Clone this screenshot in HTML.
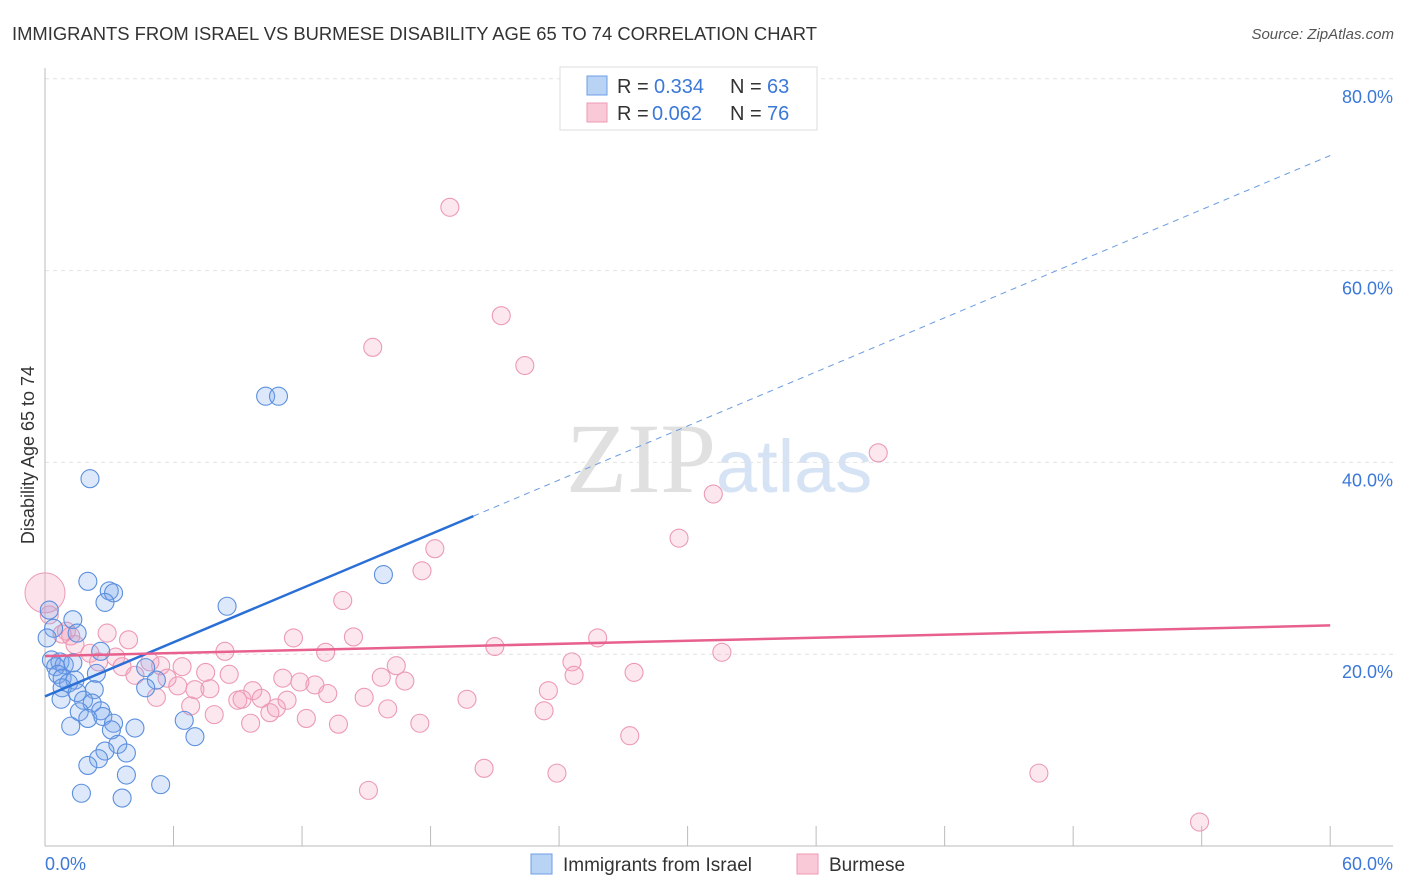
<!DOCTYPE html>
<html><head><meta charset="utf-8"><style>
body{margin:0;background:#fff;font-family:"Liberation Sans",sans-serif;}
svg{display:block}
</style></head><body>
<svg id="chart" width="1406" height="892">
<text x="12" y="40" font-size="18.4" fill="#333">IMMIGRANTS FROM ISRAEL VS BURMESE DISABILITY AGE 65 TO 74 CORRELATION CHART</text>
<text x="1394" y="39" font-size="15" fill="#555" font-style="italic" text-anchor="end">Source: ZipAtlas.com</text>
<text x="716" y="492" font-size="100" fill="#e0e0e0" text-anchor="end" font-family="Liberation Serif">ZIP</text>
<text x="716" y="492" font-size="74" fill="#d5e3f5">atlas</text>
<g id="grid"></g>
<line x1="45" y1="68" x2="45" y2="846" stroke="#bbb"/>
<line x1="45" y1="846" x2="1393" y2="846" stroke="#bbb"/>
<text x="34" y="455" font-size="18" fill="#333" text-anchor="middle" transform="rotate(-90 34 455)">Disability Age 65 to 74</text>
<text x="45" y="870" font-size="18" fill="#3b78d8">0.0%</text>
<text x="1393" y="870" font-size="18" fill="#3b78d8" text-anchor="end">60.0%</text>
<g id="pts"></g>
<g id="lines"></g>
<g>
<rect x="560" y="67" width="257" height="63" fill="#fff" stroke="#ddd"/>
<rect x="587" y="76" width="20" height="19" fill="#b9d3f5" stroke="#6b9ee6"/>
<rect x="587" y="103" width="20" height="19" fill="#f9c9d8" stroke="#ee9ab5"/>
<text x="617" y="93" font-size="20" fill="#333">R =</text>
<text x="654" y="93" font-size="20" fill="#3b78d8">0.334</text>
<text x="730" y="93" font-size="20" fill="#333">N =</text>
<text x="767" y="93" font-size="20" fill="#3b78d8">63</text>
<text x="617" y="120" font-size="20" fill="#333">R =</text>
<text x="652" y="120" font-size="20" fill="#3b78d8">0.062</text>
<text x="730" y="120" font-size="20" fill="#333">N =</text>
<text x="767" y="120" font-size="20" fill="#3b78d8">76</text>
</g>
<g>
<rect x="531" y="854" width="21" height="20" fill="#b9d3f5" stroke="#6b9ee6"/>
<text x="563" y="871" font-size="19" fill="#333">Immigrants from Israel</text></g>
<g>
<rect x="797" y="854" width="21" height="20" fill="#f9c9d8" stroke="#ee9ab5"/>
<text x="829" y="871" font-size="19" fill="#333">Burmese</text></g>
</svg>
<script>
const yTicks=[20,40,60,80];
const xTicks=[0,6,12,18,24,30,36,42,48,54,60];
const blueX=[2.1,10.3,10.9,2.0,3.0,3.2,2.8,8.5,15.8,0.2,1.3,0.4,1.5,0.1,2.6,0.3,0.7,0.9,0.5,1.3,4.7,5.2,0.6,0.8,2.4,1.1,1.4,0.8,2.3,4.7,1.5,0.75,1.8,2.2,1.6,2.6,2.0,2.7,6.5,3.2,3.1,1.2,4.2,7.0,3.4,2.8,3.8,2.5,2.0,3.8,5.4,1.7,3.6];
const blueY=[38.3,46.9,46.9,27.6,26.6,26.4,25.4,25.0,28.3,24.6,23.6,22.7,22.2,21.7,20.3,19.4,19.2,18.9,18.7,19.1,18.6,17.3,17.9,17.5,18.0,17.0,17.3,16.5,16.3,16.5,16.0,15.3,15.2,14.9,14.0,14.1,13.3,13.5,13.1,12.8,12.1,12.5,12.3,11.4,10.6,9.9,9.7,9.1,8.4,7.4,6.4,5.5,5.0];
const pinkX=[0.2,1.0,1.2,0.8,2.9,3.9,1.4,2.1,3.3,2.5,4.9,4.2,3.6,5.4,6.4,5.7,6.2,5.2,7.0,7.7,7.5,8.4,8.6,6.8,7.9,9.0,9.2,9.7,10.1,9.6,10.5,10.8,11.3,11.1,11.6,11.9,12.6,12.2,13.2,13.1,13.7,14.4,13.9,14.9,15.7,16.0,16.4,16.8,17.5,17.6,18.2,15.1,18.9,15.3,21.3,22.4,20.5,19.7,21.0,23.3,23.5,23.9,24.6,24.7,25.8,27.3,27.5,29.6,31.2,31.6,38.9,46.4,53.9];
const pinkY=[24.1,22.4,21.9,22.1,22.2,21.5,21.0,20.1,19.7,19.2,19.2,17.8,18.7,18.8,18.7,17.5,16.7,15.5,16.3,16.4,18.1,20.3,17.9,14.6,13.7,15.2,15.3,16.2,15.4,12.8,13.9,14.4,15.2,17.5,21.7,17.1,16.8,13.3,15.9,20.2,12.7,21.8,25.6,15.5,17.6,14.3,18.8,17.2,12.8,28.7,31.0,5.8,66.6,52.0,55.3,50.1,8.1,15.3,20.8,14.1,16.2,7.6,19.2,17.8,21.7,11.5,18.1,32.1,36.7,20.2,41.0,7.6,2.5];
const blueLine=[[0,15.6],[20,34.4],[60,72.0]];
const pinkLine=[[0,19.8],[60,23.0]];
const NS="http://www.w3.org/2000/svg";
const sx=v=>45+v*21.42, sy=v=>846-v*9.59;
function mk(t,a,p){const e=document.createElementNS(NS,t);for(const k in a)e.setAttribute(k,a[k]);p.appendChild(e);return e;}
const grid=document.getElementById('grid');
yTicks.forEach(v=>{
 const l=mk('line',{x1:45,x2:1393,y1:sy(v),y2:sy(v),stroke:'#e2e2e2','stroke-dasharray':'4,4'},grid);
 
 
 const t=mk('text',{x:1393,y:sy(v)+24,'font-size':18,fill:'#3b78d8','text-anchor':'end'},grid);
 t.textContent=v.toFixed(1)+'%';
 
 
});
xTicks.forEach(v=>{
 const l=mk('line',{x1:sx(v),x2:sx(v),y1:826,y2:846,stroke:'#bbb'},grid);
 
 
});
const pts=document.getElementById('pts');
pinkX.forEach((x,i)=>{
 const c=mk('circle',{cx:sx(x),cy:sy(pinkY[i]),r:9,fill:'rgba(244,160,188,0.25)',stroke:'#ec9ab5','stroke-width':1.1},pts);
 
 
});
const big=mk('circle',{cx:sx(0),cy:sy(26.4),r:20,fill:'rgba(244,160,188,0.3)',stroke:'#ec9ab5'},pts);


blueX.forEach((x,i)=>{
 const c=mk('circle',{cx:sx(x),cy:sy(blueY[i]),r:9,fill:'rgba(120,165,235,0.25)',stroke:'#5b8fde','stroke-width':1.1},pts);
 
 
});
const lines=document.getElementById('lines');
const b1=mk('line',{x1:sx(blueLine[0][0]),y1:sy(blueLine[0][1]),x2:sx(blueLine[1][0]),y2:sy(blueLine[1][1]),stroke:'#2a6fd6','stroke-width':2.5},lines);


const b2=mk('line',{x1:sx(blueLine[1][0]),y1:sy(blueLine[1][1]),x2:sx(blueLine[2][0]),y2:sy(blueLine[2][1]),stroke:'#6a9be0','stroke-width':1,'stroke-dasharray':'6,5'},lines);


const p1=mk('line',{x1:sx(pinkLine[0][0]),y1:sy(pinkLine[0][1]),x2:sx(pinkLine[1][0]),y2:sy(pinkLine[1][1]),stroke:'#e8608e','stroke-width':2.5},lines);


</script>
</body></html>
